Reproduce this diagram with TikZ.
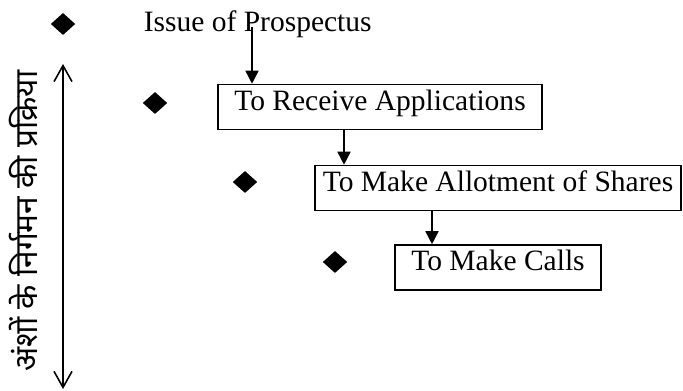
\documentclass[tikz,border=0pt]{standalone}
\usepackage{fontspec}
\setmainfont{Liberation Serif}
\newfontfamily\hindifont[Script=Devanagari]{Noto Sans}
\usetikzlibrary{arrows.meta,shapes.geometric}

\def\fs{\fontsize{16.8}{20}\selectfont}
\def\tip{{Triangle[length=0.26cm,width=0.26cm]}}

\begin{document}
\begin{tikzpicture}[x=0.02cm, y=-0.02cm, line width=0.9pt,
	stepbox/.style={rectangle,draw,inner sep=0,text height=0.52cm,text depth=0.38cm,font=\fs},
	bullet/.style={diamond,fill=black,draw=none,inner sep=0,minimum width=0.5cm,minimum height=0.45cm}]
		
		\useasboundingbox (0,0) rectangle (683,391);
		
		\node (B1) at (63,24) [bullet] {};
		\node (B2) at (155,103) [bullet] {};
		\node (B3) at (245,182) [bullet] {};
		\node (B4) at (335,262) [bullet] {};
		
		\node (issue) at (143,32) [anchor=base west,inner sep=0,font=\fs] {Issue of Prospectus};
		\node (rcv) at (380,107) [stepbox,minimum width=6.48cm] {To Receive Applications};
		\node (allot) at (498,188) [stepbox,minimum width=7.32cm] {To Make Allotment of Shares};
		\node (calls) at (498,267.5) [stepbox,minimum width=4.12cm] {To Make Calls};
		
		\node (proc) at (37,221) [rotate=90,anchor=base,inner sep=0,font=\hindifont\fontsize{18}{20}\selectfont] {अंशों के निर्गमन की प्रक्रिया};
		
		\coordinate (top) at (63,64);
		\coordinate (bot) at (63,389);
		\coordinate (a1) at (252,27);
		\coordinate (a2) at (344,0);
		\coordinate (a3) at (432,0);
		
		\draw[-\tip] (a1) to (a1 |- rcv.north);
		\draw[-\tip] (rcv.south -| a2) to (allot.north -| a2);
		\draw[-\tip] (allot.south -| a3) to (calls.north -| a3);
		
		\draw[{Straight Barb[length=0.32cm,width=0.36cm]}-{Straight Barb[length=0.32cm,width=0.36cm]}] (top) to (bot);
		
	\end{tikzpicture}
\end{document}
